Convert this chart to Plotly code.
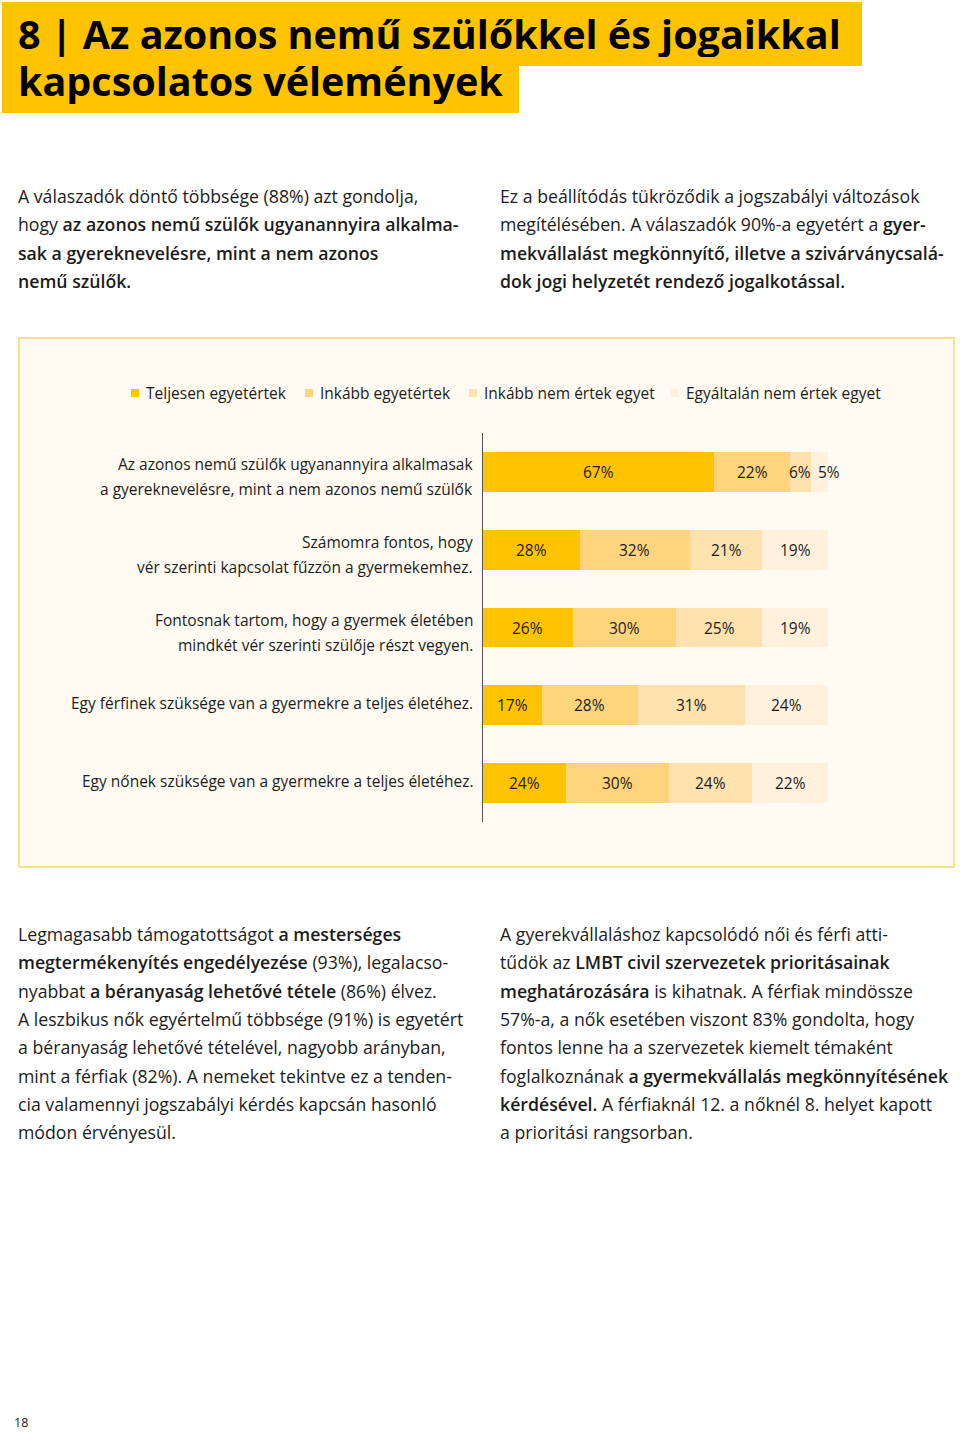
import plotly.graph_objects as go

W, H = 960, 1432
FONT = "Open Sans"

# ---------------- data ----------------
categories = [
    "Az azonos nemű szülők ugyanannyira alkalmasak<br>a gyereknevelésre, mint a nem azonos nemű szülők",
    "Számomra fontos, hogy<br>vér szerinti kapcsolat fűzzön a gyermekemhez.",
    "Fontosnak tartom, hogy a gyermek életében<br>mindkét vér szerinti szülője részt vegyen.",
    "Egy férfinek szüksége van a gyermekre a teljes életéhez.",
    "Egy nőnek szüksége van a gyermekre a teljes életéhez.",
]
series_names = ["Teljesen egyetértek", "Inkább egyetértek", "Inkább nem értek egyet", "Egyáltalán nem értek egyet"]
teljesen = [67, 28, 26, 17, 24]
inkabb_egyet = [22, 32, 30, 28, 30]
inkabb_nem = [6, 21, 25, 31, 24]
egyaltalan_nem = [5, 19, 19, 24, 22]
series_values = [teljesen, inkabb_egyet, inkabb_nem, egyaltalan_nem]

title_lines = ["8 | Az azonos nemű szülőkkel és jogaikkal", "kapcsolatos vélemények"]

para_top_left = [
    "A válaszadók döntő többsége (88%) azt gondolja,",
    "hogy <b>az azonos nemű szülők ugyanannyira alkalma-</b>",
    "<b>sak a gyereknevelésre, mint a nem azonos</b>",
    "<b>nemű szülők.</b>",
]
para_top_right = [
    "Ez a beállítódás tükröződik a jogszabályi változások",
    "megítélésében. A válaszadók 90%-a egyetért a <b>gyer-</b>",
    "<b>mekvállalást megkönnyítő, illetve a szivárványcsalá-</b>",
    "<b>dok jogi helyzetét rendező jogalkotással.</b>",
]
para_bottom_left = [
    "Legmagasabb támogatottságot <b>a mesterséges</b>",
    "<b>megtermékenyítés engedélyezése</b> (93%), legalacso-",
    "nyabbat <b>a béranyaság lehetővé tétele</b> (86%) élvez.",
    "A leszbikus nők egyértelmű többsége (91%) is egyetért",
    "a béranyaság lehetővé tételével, nagyobb arányban,",
    "mint a férfiak (82%). A nemeket tekintve ez a tenden-",
    "cia valamennyi jogszabályi kérdés kapcsán hasonló",
    "módon érvényesül.",
]
para_bottom_right = [
    "A gyerekvállaláshoz kapcsolódó női és férfi atti-",
    "tűdök az <b>LMBT civil szervezetek prioritásainak</b>",
    "<b>meghatározására</b> is kihatnak. A férfiak mindössze",
    "57%-a, a nők esetében viszont 83% gondolta, hogy",
    "fontos lenne ha a szervezetek kiemelt témaként",
    "foglalkoznának <b>a gyermekvállalás megkönnyítésének</b>",
    "<b>kérdésével.</b> A férfiaknál 12. a nőknél 8. helyet kapott",
    "a prioritási rangsorban.",
]
page_number = "18"

# ---------------- styles ----------------
colors = ["#FFC300", "#FFD47C", "#FFE2AE", "#FFF1DC"]
YELLOW = "#FFC300"
TEXT = "#1c1c1c"
SEMIBOLD_OPEN = '<span style="font-weight:600">'


def px(x):
    return x / W


def py(y):
    return 1 - y / H


def semibold(s):
    return s.replace("<b>", SEMIBOLD_OPEN).replace("</b>", "</span>")


fig = go.Figure()

# stacked bars
for name, vals, col in zip(series_names, series_values, colors):
    fig.add_trace(go.Bar(
        y=list(range(len(categories))), x=vals, name=name, orientation="h",
        marker=dict(color=col, line=dict(width=0)), width=0.514,
        showlegend=False, hoverinfo="skip",
    ))

annotations = []
shapes = []

# value labels (centered on segments)
n_series = len(series_values)
for i in range(len(categories)):
    cum = 0
    for s in range(n_series):
        v = series_values[s][i]
        mid = cum + v / 2
        shift = 0
        if v < 6 and s == n_series - 1:
            shift = 10
        annotations.append(dict(
            x=mid, y=i, xref="x", yref="y", text=f"{v}%", showarrow=False,
            xshift=shift, font=dict(family=FONT, size=15.5, color=TEXT),
        ))
        cum += v

# category labels (one annotation per line for line spacing)
LABEL_RIGHT = 475
for i, cat in enumerate(categories):
    lines = cat.split("<br>")
    n = len(lines)
    for k, line in enumerate(lines):
        offset = ((n - 1) / 2 - k) * 25 + (-5 if n > 1 else 2)
        annotations.append(dict(
            x=px(LABEL_RIGHT), y=i, xref="paper", yref="y", text=line, showarrow=False,
            xanchor="right", yanchor="middle", yshift=offset,
            font=dict(family=FONT, size=15.5, color=TEXT),
        ))

# chart panel
shapes.append(dict(type="rect", xref="paper", yref="paper", x0=px(19), x1=px(954), y0=py(867), y1=py(338),
                   fillcolor="#FFFBF2", line=dict(color="#FBE08C", width=2), layer="below"))

# title boxes
shapes.append(dict(type="rect", xref="paper", yref="paper", x0=px(2), x1=px(862), y0=py(66), y1=py(2),
                   fillcolor=YELLOW, line=dict(width=0), layer="below"))
shapes.append(dict(type="rect", xref="paper", yref="paper", x0=px(2), x1=px(519), y0=py(113), y1=py(65),
                   fillcolor=YELLOW, line=dict(width=0), layer="below"))
for line, yc in zip(title_lines, [34, 81]):
    annotations.append(dict(x=px(16), y=py(yc), xref="paper", yref="paper", text=f"<b>{line}</b>",
                            showarrow=False, xanchor="left", yanchor="middle", height=46,
                            font=dict(family=FONT, size=39.5, color="#000000")))

# legend (manual)
LEGEND_X = [131, 305, 469, 671]
LEGEND_Y = 393
for name, col, lx in zip(series_names, colors, LEGEND_X):
    shapes.append(dict(type="rect", xref="paper", yref="paper", x0=px(lx), x1=px(lx + 8),
                       y0=py(LEGEND_Y + 4), y1=py(LEGEND_Y - 4), fillcolor=col, line=dict(width=0)))
    annotations.append(dict(x=px(lx + 13), y=py(LEGEND_Y), xref="paper", yref="paper", text=name,
                            showarrow=False, xanchor="left", yanchor="middle",
                            font=dict(family=FONT, size=15.5, color=TEXT)))


# paragraphs
def add_para(lines, x, y0, step):
    for k, line in enumerate(lines):
        annotations.append(dict(x=px(x), y=py(y0 + k * step), xref="paper", yref="paper", text=semibold(line),
                                showarrow=False, xanchor="left", yanchor="middle",
                                font=dict(family=FONT, size=17.7, color=TEXT)))


add_para(para_top_left, 16, 196, 28.3)
add_para(para_top_right, 498, 196, 28.3)
add_para(para_bottom_left, 16, 934, 28.3)
add_para(para_bottom_right, 498, 934, 28.3)

annotations.append(dict(x=px(13), y=py(1432), xref="paper", yref="paper", text=page_number,
                        showarrow=False, xanchor="left", yanchor="bottom", borderpad=0,
                        font=dict(family=FONT, size=12.5, color=TEXT)))

fig.update_layout(
    width=W, height=H, margin=dict(l=0, r=0, t=0, b=0),
    paper_bgcolor="#FFFFFF", plot_bgcolor="rgba(0,0,0,0)",
    barmode="stack", showlegend=False,
    xaxis=dict(domain=[px(483), px(828)], range=[0, 100], visible=False, fixedrange=True),
    yaxis=dict(domain=[py(822), py(433)], range=[4.5, -0.5], showticklabels=False, showgrid=False,
               zeroline=False, showline=True, linecolor="#555555", linewidth=1, ticks="", fixedrange=True),
    annotations=annotations, shapes=shapes,
)

fig.write_html("out.html", config={"displayModeBar": False},
               post_script="document.body.style.margin='0';document.body.style.overflow='hidden';")
